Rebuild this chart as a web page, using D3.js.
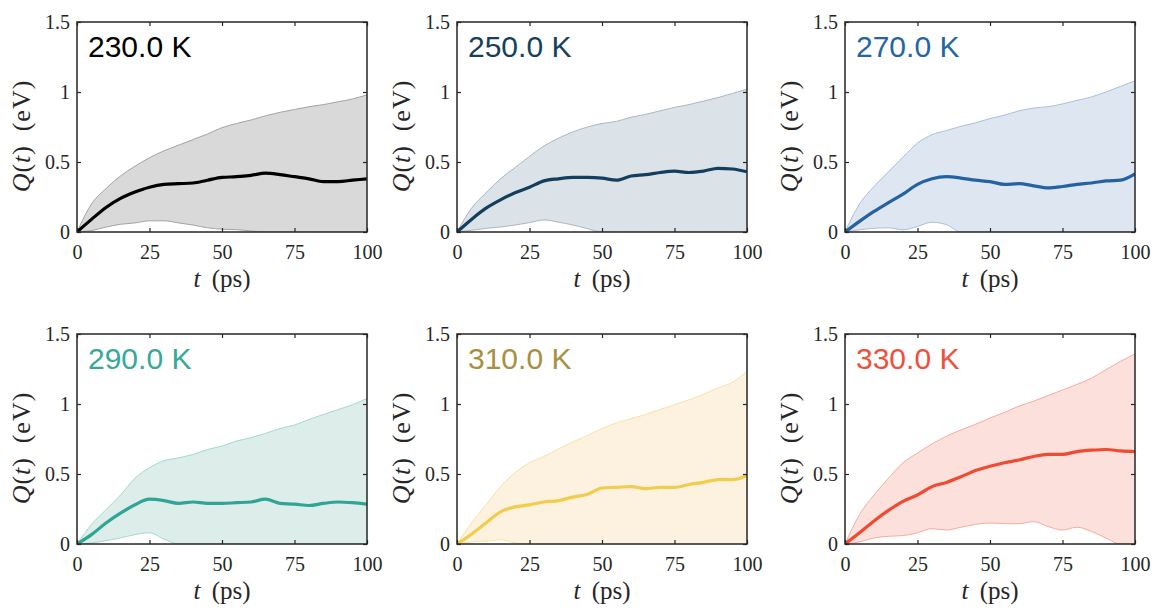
<!DOCTYPE html>
<html><head><meta charset="utf-8">
<script src="https://cdn.jsdelivr.net/npm/d3@7/dist/d3.min.js"></script>
<style>body{margin:0;background:#fff}svg{display:block}</style>
</head><body><svg id="c" width="1154" height="611"></svg>
<script>
const times = [0,5,10,15,20,25,30,35,40,45,50,55,60,65,70,75,80,85,90,95,100];
const temps = ["230.0 K","250.0 K","270.0 K","290.0 K","310.0 K","330.0 K"];
const xTicks = [0,25,50,75,100];
const yTicks = [0,0.5,1,1.5];
const yTickLabels = ["0","0.5","1","1.5"];
const lineColors = ["#000000","#133f5d","#2462a2","#2fa596","#f1cd4c","#ef4a32"];
const textColors = ["#000000","#163f5e","#2665a4","#35a99a","#a89040","#f0503a"];
const fillColors = ["#d9d9d9","#dbe2e8","#dee6f1","#dcedea","#fcf2df","#fbe0dc"];
const edgeColors = ["#a3a3a3","#a9b7c4","#a9c0de","#a3d8d0","#f8e2a8","#f6aba0"];

const mean230 = [0,0.09,0.175,0.24,0.285,0.32,0.34,0.345,0.35,0.37,0.39,0.395,0.405,0.42,0.41,0.395,0.38,0.36,0.36,0.37,0.38];
const upper230 = [0,0.20,0.31,0.40,0.47,0.53,0.58,0.62,0.66,0.70,0.745,0.775,0.80,0.83,0.855,0.875,0.895,0.91,0.93,0.95,0.98];
const lower230 = [0,0.01,0.035,0.055,0.065,0.08,0.08,0.065,0.05,0.03,0.02,0.017,0.007,0,0,0,0,0,0,0,0];

const mean250 = [0,0.09,0.17,0.23,0.28,0.32,0.365,0.38,0.39,0.39,0.385,0.37,0.40,0.41,0.425,0.435,0.425,0.435,0.455,0.45,0.43];
const upper250 = [0,0.17,0.28,0.38,0.46,0.54,0.615,0.67,0.715,0.75,0.775,0.79,0.82,0.84,0.865,0.89,0.91,0.935,0.96,0.99,1.02];
const lower250 = [0,0.012,0.026,0.036,0.05,0.067,0.086,0.07,0.05,0.024,0,0,0,0,0,0,0,0,0,0,0];

const mean270 = [0,0.076,0.147,0.21,0.27,0.34,0.38,0.395,0.385,0.37,0.36,0.34,0.345,0.33,0.315,0.325,0.34,0.35,0.365,0.37,0.415];
const upper270 = [0,0.20,0.325,0.43,0.535,0.635,0.695,0.725,0.755,0.78,0.81,0.835,0.865,0.885,0.895,0.915,0.94,0.965,1.0,1.04,1.08];
const lower270 = [0,0.016,0.026,0.03,0.016,0.04,0.07,0.052,0,0,0,0,0,0,0,0,0,0,0,0,0];

const mean290 = [0,0.067,0.15,0.22,0.28,0.32,0.31,0.29,0.30,0.29,0.29,0.295,0.30,0.32,0.29,0.285,0.275,0.29,0.30,0.295,0.285];
const upper290 = [0,0.14,0.245,0.35,0.47,0.545,0.595,0.615,0.64,0.675,0.70,0.735,0.76,0.79,0.825,0.85,0.89,0.925,0.96,0.995,1.04];
const lower290 = [0,0.007,0.024,0.043,0.067,0.08,0.035,0,0,0,0,0,0,0,0,0,0,0,0,0,0];

const mean310 = [0,0.07,0.15,0.23,0.265,0.28,0.30,0.31,0.335,0.355,0.40,0.405,0.41,0.395,0.405,0.405,0.425,0.44,0.46,0.46,0.49];
const upper310 = [0,0.15,0.28,0.41,0.51,0.58,0.625,0.68,0.73,0.775,0.825,0.865,0.895,0.925,0.96,0.995,1.03,1.07,1.115,1.155,1.235];
const lower310 = [0,0.015,0.02,0.03,0.008,0,0,0,0,0,0,0,0,0,0,0,0,0,0,0,0];

const mean330 = [0,0.08,0.165,0.24,0.305,0.35,0.41,0.44,0.48,0.525,0.555,0.58,0.60,0.625,0.64,0.64,0.66,0.67,0.675,0.665,0.66];
const upper330 = [0,0.21,0.35,0.47,0.58,0.65,0.715,0.77,0.815,0.855,0.90,0.94,0.985,1.02,1.06,1.10,1.14,1.185,1.245,1.305,1.357];
const lower330 = [0,0.015,0.043,0.055,0.06,0.08,0.11,0.10,0.12,0.14,0.15,0.145,0.145,0.16,0.125,0.10,0.12,0.09,0.043,0,0];

const means = [mean230,mean250,mean270,mean290,mean310,mean330];
const uppers = [upper230,upper250,upper270,upper290,upper310,upper330];
const lowers = [lower230,lower250,lower270,lower290,lower310,lower330];

const svg = d3.select("#c");
const colX = [77,457,845];
const rowY = [22,334];
const W = 290, H = 210;
const serif = "'Liberation Serif','Times New Roman',serif";
const sans = "'Liberation Sans',Arial,Helvetica,sans-serif";

temps.forEach((lab,i)=>{
  const L = colX[i%3], T = rowY[Math.floor(i/3)];
  const x = d3.scaleLinear().domain([0,100]).range([0,W]);
  const y = d3.scaleLinear().domain([0,1.5]).range([H,0]);
  const g = svg.append("g").attr("transform",`translate(${L},${T})`);
  const cid = "clip"+i;
  g.append("clipPath").attr("id",cid).append("rect").attr("width",W).attr("height",H);
  const pts = times.map((t,k)=>({t, m:means[i][k], u:uppers[i][k], l:lowers[i][k]}));
  const pg = g.append("g").attr("clip-path",`url(#${cid})`);
  pg.append("path").datum(pts)
    .attr("d",d3.area().x(d=>x(d.t)).y0(d=>y(d.l)).y1(d=>y(d.u)).curve(d3.curveMonotoneX))
    .attr("fill",fillColors[i]).attr("stroke","none");
  pg.append("path").datum(pts)
    .attr("d",d3.line().x(d=>x(d.t)).y(d=>y(d.u)).curve(d3.curveMonotoneX))
    .attr("fill","none").attr("stroke",edgeColors[i]).attr("stroke-width",1);
  pg.append("path").datum(pts)
    .attr("d",d3.line().x(d=>x(d.t)).y(d=>y(d.l)).curve(d3.curveMonotoneX))
    .attr("fill","none").attr("stroke",edgeColors[i]).attr("stroke-width",1);
  pg.append("path").datum(pts)
    .attr("d",d3.line().x(d=>x(d.t)).y(d=>y(d.m)).curve(d3.curveMonotoneX))
    .attr("fill","none").attr("stroke",lineColors[i]).attr("stroke-width",3.2)
    .attr("stroke-linejoin","round");

  const styleAxis = sel => {
    sel.select(".domain").remove();
    sel.selectAll("line").attr("stroke","#262626").attr("stroke-width",1.2);
    sel.selectAll("text").attr("font-family",serif).attr("font-size",20).attr("fill","#262626");
  };
  g.append("g").attr("transform",`translate(0,${H})`)
    .call(d3.axisBottom(x).tickValues(xTicks).tickSize(-4).tickPadding(13).tickFormat(d3.format("d")))
    .call(styleAxis);
  g.append("g")
    .call(d3.axisTop(x).tickValues(xTicks).tickSize(-4).tickFormat(""))
    .call(styleAxis);
  g.append("g")
    .call(d3.axisLeft(y).tickValues(yTicks).tickSize(-4).tickPadding(7).tickFormat((d,k)=>yTickLabels[k]))
    .call(styleAxis);
  g.append("g").attr("transform",`translate(${W},0)`)
    .call(d3.axisRight(y).tickValues(yTicks).tickSize(-4).tickFormat(""))
    .call(styleAxis);
  g.append("rect").attr("width",W).attr("height",H)
    .attr("fill","none").attr("stroke","#262626").attr("stroke-width",1.5);

  g.append("text").attr("x",11).attr("y",35)
    .attr("font-family",sans).attr("font-size",30).attr("fill",textColors[i]).text(lab);

  const xl = g.append("text").attr("x",W/2).attr("y",H+55).attr("text-anchor","middle")
    .attr("font-family",serif).attr("font-size",25).attr("fill","#262626");
  xl.append("tspan").attr("font-style","italic").text("t");
  xl.append("tspan").text("\u2009 (ps)");

  const yl = g.append("text").attr("transform",`translate(-47,${H/2+9}) rotate(-90)`)
    .attr("text-anchor","middle").attr("font-family",serif).attr("font-size",26)
    .attr("letter-spacing",1).attr("fill","#262626");
  yl.append("tspan").attr("font-style","italic").text("Q");
  yl.append("tspan").text("(");
  yl.append("tspan").attr("font-style","italic").text("t");
  yl.append("tspan").text(")\u2009 (eV)");
});
</script></body></html>
